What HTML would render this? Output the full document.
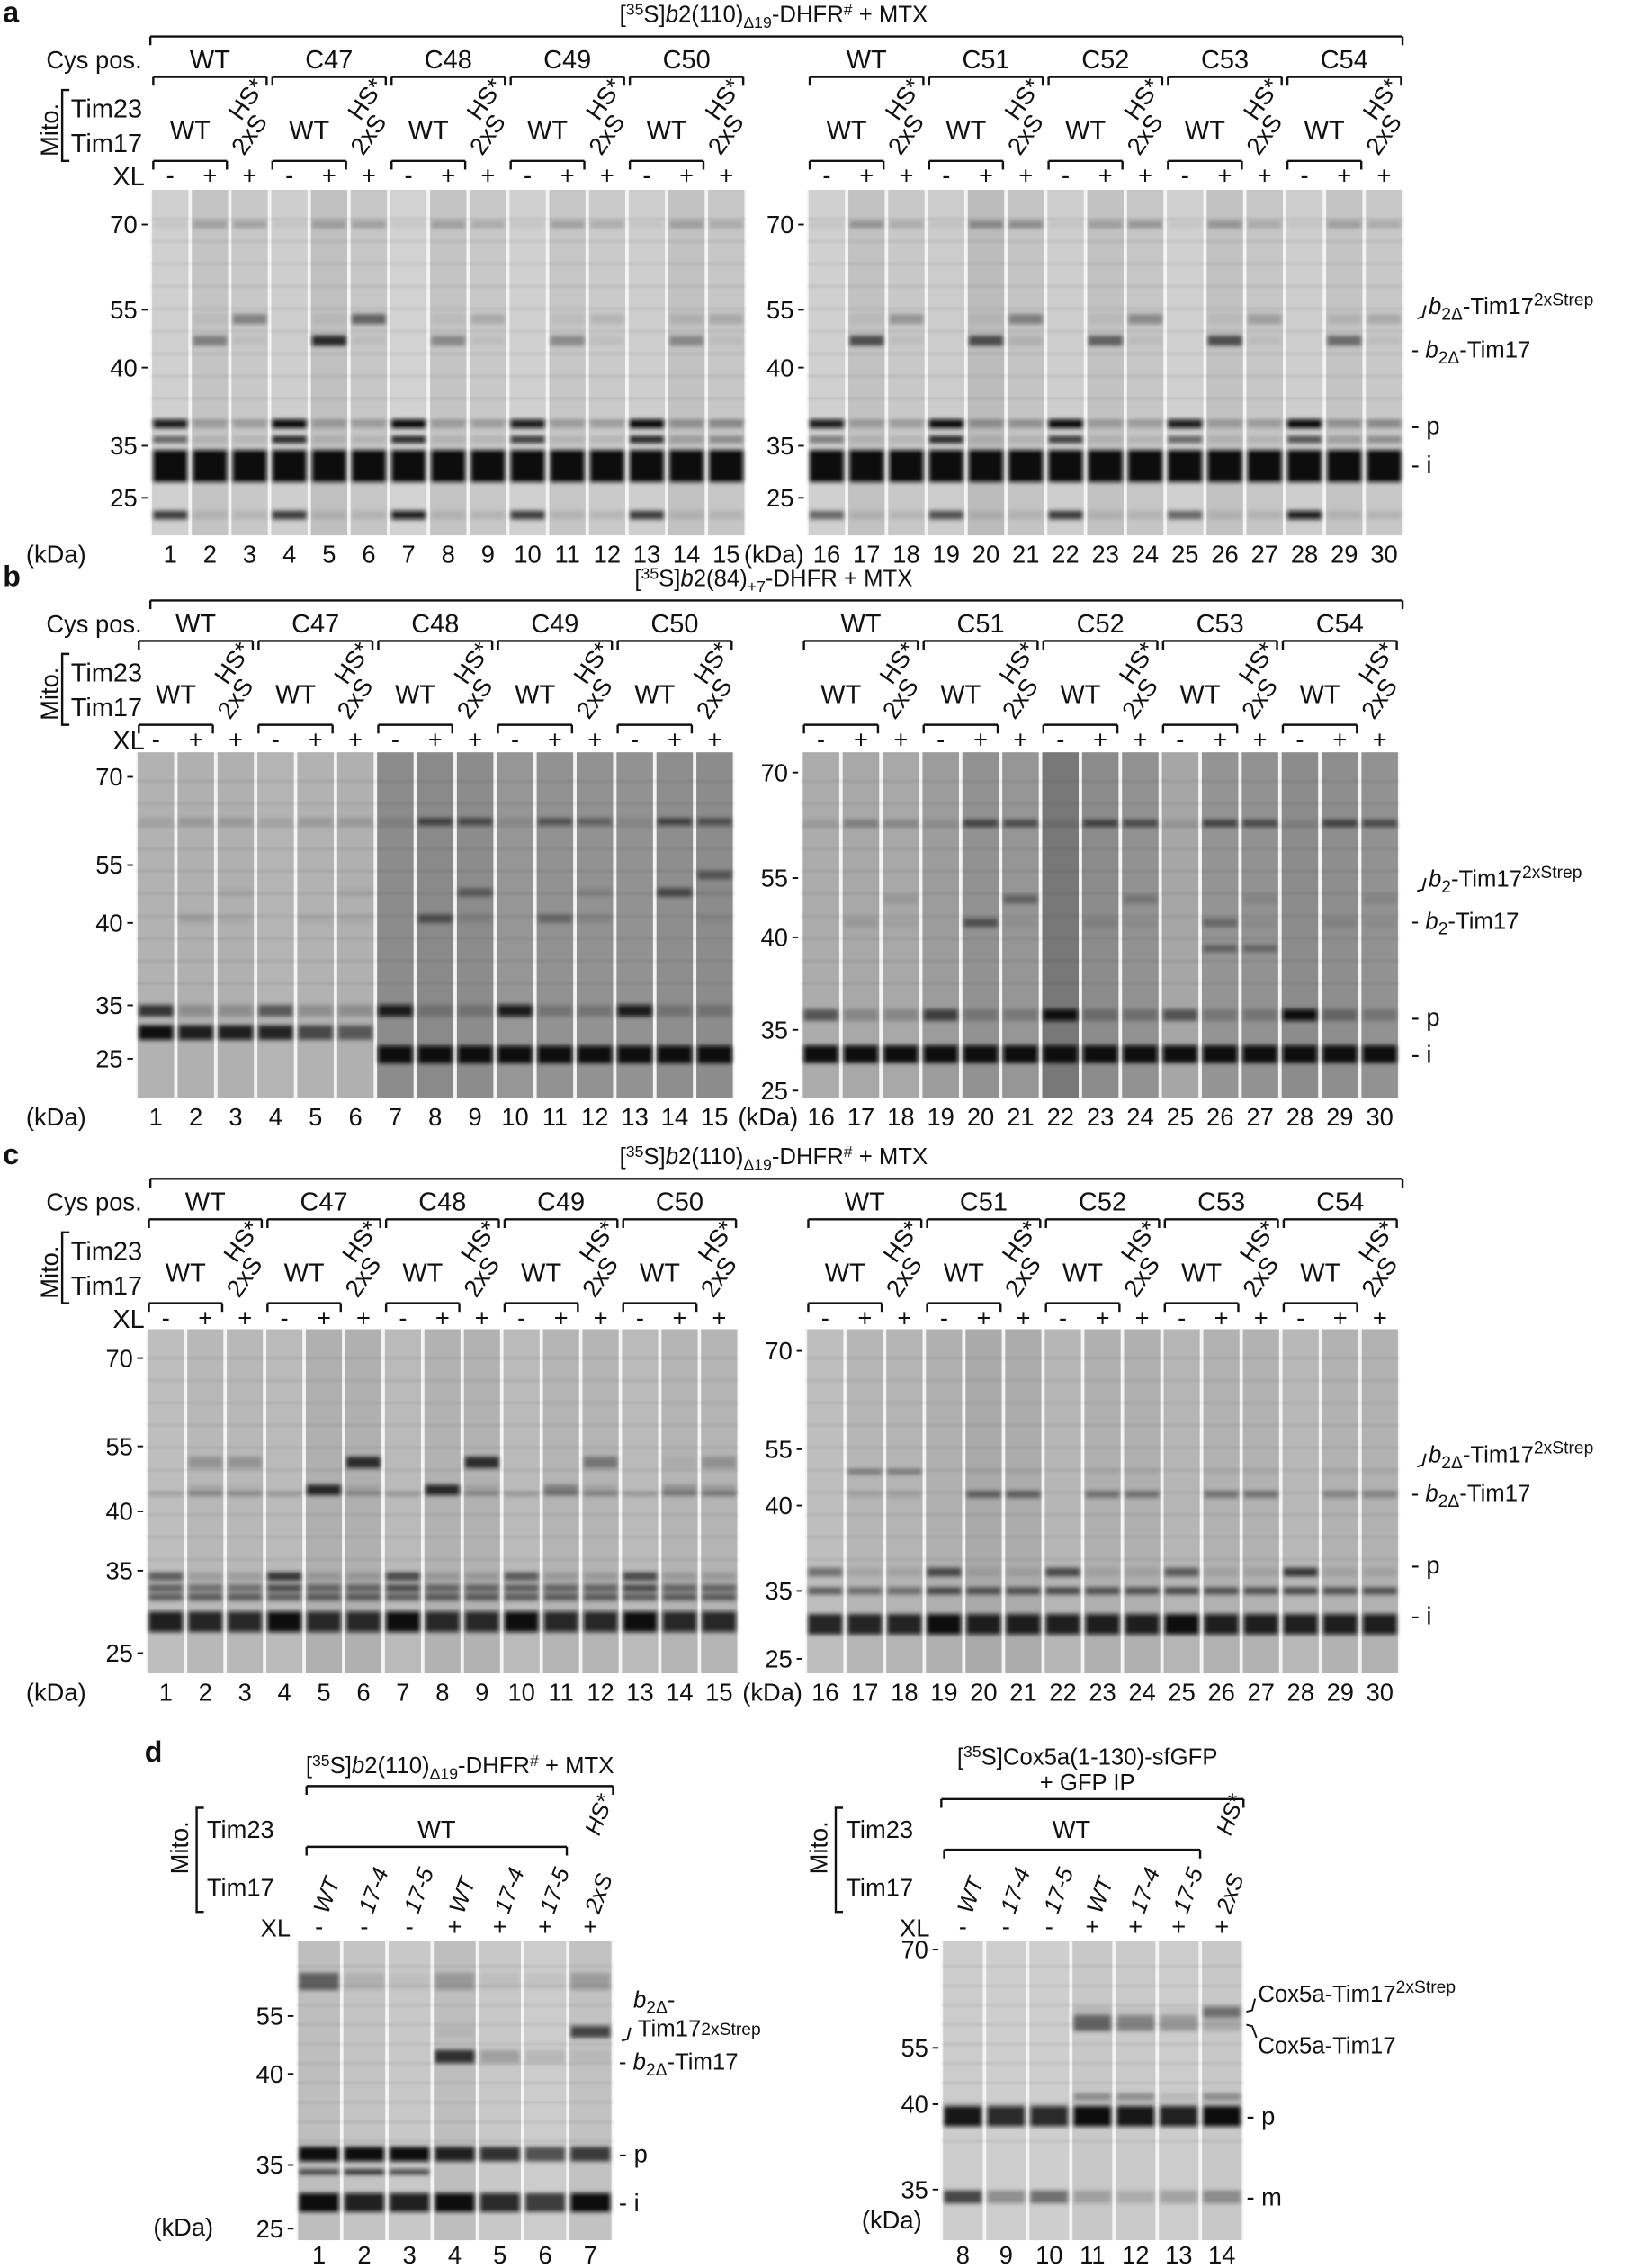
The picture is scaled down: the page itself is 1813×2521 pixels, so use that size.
<!DOCTYPE html>
<html><head><meta charset="utf-8">
<style>
html,body{margin:0;padding:0;background:#fff;}
svg{display:block;}
text{font-family:"Liberation Sans",sans-serif;fill:#111;}
</style></head>
<body>
<svg id="fig" xmlns="http://www.w3.org/2000/svg" width="1813" height="2521" viewBox="0 0 1128 1568">
<defs>
<filter id="blur" x="-20%" y="-60%" width="140%" height="220%"><feGaussianBlur stdDeviation="1.5"/></filter>
<filter id="blur2"><feGaussianBlur stdDeviation="0.8"/></filter>
</defs>
<g id="root"></g>
</svg>
<script>
// ---------- data ----------
const markerKDa = [70, 55, 40, 35, 25];
const laneNumsLeft = [1,2,3,4,5,6,7,8,9,10,11,12,13,14,15];
const laneNumsRight = [16,17,18,19,20,21,22,23,24,25,26,27,28,29,30];
const groupsLeft = ["WT","C47","C48","C49","C50"];
const groupsRight = ["WT","C51","C52","C53","C54"];
const xlSigns = ["-","+","+"];
// panel a
const aL_bg = [208,196,200,206,192,198,210,196,200,208,198,202,206,194,198];
const aL_p  = [0.9,0.2,0.2,1,0.2,0.2,1,0.2,0.2,0.9,0.2,0.2,1,0.25,0.3];
const aL_p2 = [0.5,0.1,0.1,0.8,0.1,0.1,0.8,0.1,0.1,0.7,0.1,0.1,0.8,0.2,0.3];
const aL_i  = [1,1,1,1,1,1,1,1,1,1,1,1,1,1,1];
const aL_xl = [0,0.35,0.05,0,0.85,0.05,0,0.3,0.05,0,0.3,0.05,0,0.3,0.05];
const aL_xs = [0,0.05,0.35,0,0.05,0.5,0,0.05,0.15,0,0.05,0.1,0,0.1,0.15];
const aL_hi = [0.05,0.2,0.2,0.05,0.2,0.2,0.05,0.2,0.15,0.05,0.2,0.15,0.05,0.2,0.15];
const aL_lo = [0.7,0.1,0.1,0.7,0.1,0.1,0.9,0.1,0.1,0.7,0.1,0.1,0.7,0.1,0.1];
const aR_bg = [208,194,200,204,188,196,206,194,198,208,194,198,206,196,200];
const aR_p  = [0.9,0.2,0.2,1,0.25,0.25,1,0.2,0.2,0.9,0.2,0.2,1,0.25,0.3];
const aR_p2 = [0.4,0.1,0.1,0.8,0.1,0.1,0.7,0.1,0.1,0.5,0.1,0.1,0.6,0.2,0.3];
const aR_i  = [1,1,1,1,1,1,1,1,1,1,1,1,1,1,1];
const aR_xl = [0,0.6,0.05,0,0.6,0.1,0,0.5,0.05,0,0.6,0.05,0,0.45,0.05];
const aR_xs = [0,0.05,0.25,0,0.05,0.35,0,0.05,0.3,0,0.05,0.2,0,0.1,0.15];
const aR_hi = [0.05,0.25,0.15,0.05,0.3,0.3,0.05,0.2,0.25,0.05,0.25,0.15,0.05,0.2,0.15];
const aR_lo = [0.5,0.1,0.1,0.6,0.1,0.1,0.7,0.1,0.1,0.5,0.1,0.1,0.9,0.1,0.1];
// panel b
const bL_bg = [178,176,176,180,178,176,140,138,140,150,146,146,146,142,140];
const bL_p  = [0.7,0.2,0.2,0.5,0.2,0.2,0.9,0.2,0.2,0.9,0.2,0.2,0.9,0.2,0.2];
const bL_i1 = [1,0.9,0.9,0.8,0.6,0.5,0,0,0,0,0,0,0,0,0];
const bL_i2 = [0,0,0,0,0,0,1,1,1,1,1,1,1,1,1];
const bL_hi = [0.1,0.15,0.15,0.1,0.15,0.15,0.1,0.55,0.5,0.1,0.45,0.35,0.1,0.55,0.45];
const bL_xl = [0,0.1,0.05,0,0.05,0.05,0,0.45,0.1,0,0.3,0.1,0,0,0.05];
const bL_xs = [0,0,0.05,0,0,0.05,0,0,0.35,0,0,0.1,0,0.5,0.05];
const bL_xt = [0,0,0,0,0,0,0,0,0,0,0,0,0,0,0.4];
const bR_bg = [172,168,168,156,146,150,120,140,146,166,148,146,140,142,146];
const bR_p  = [0.5,0.2,0.2,0.6,0.2,0.2,1,0.25,0.25,0.5,0.2,0.2,1,0.3,0.2];
const bR_i  = [1,1,1,1,1,1,1,1,1,1,1,1,1,1,1];
const bR_hi = [0.1,0.25,0.2,0.1,0.55,0.5,0.1,0.55,0.5,0.1,0.55,0.5,0.1,0.55,0.5];
const bR_xl = [0,0.1,0.05,0,0.45,0.05,0,0.1,0.05,0,0.3,0.05,0,0.1,0.05];
const bR_xs = [0,0,0.1,0,0,0.35,0,0,0.2,0,0,0.1,0,0,0.1];
const bR_x4 = [0,0,0,0,0,0,0,0,0,0,0.35,0.3,0,0,0];
// panel c
const cL_bg = [190,184,184,186,176,176,186,178,178,186,180,180,186,180,180];
const cL_p  = [0.5,0.15,0.15,0.7,0.15,0.15,0.6,0.15,0.15,0.5,0.15,0.15,0.6,0.15,0.15];
const cL_p2 = [0.5,0.4,0.4,0.6,0.45,0.45,0.6,0.45,0.45,0.5,0.45,0.45,0.6,0.45,0.45];
const cL_i  = [0.9,0.8,0.85,1,0.85,0.85,1,0.85,0.85,1,0.85,0.85,1,0.85,0.85];
const cL_m  = [0.5,0.5,0.5,0.5,0.5,0.5,0.5,0.5,0.5,0.5,0.5,0.5,0.5,0.5,0.5];
const cL_xl = [0,0.1,0.05,0,0.85,0.1,0,0.85,0.1,0,0.3,0.1,0,0.2,0.15];
const cL_xs = [0,0.2,0.2,0,0,0.75,0,0,0.75,0,0,0.35,0,0.05,0.2];
const cL_ln = [0.15,0.25,0.25,0.2,0.2,0.2,0.2,0.2,0.2,0.2,0.2,0.25,0.2,0.25,0.3];
const cR_bg = [190,182,180,176,170,172,182,176,176,182,178,178,184,178,178];
const cR_p  = [0.4,0.1,0.1,0.6,0.1,0.1,0.6,0.1,0.1,0.5,0.1,0.1,0.7,0.1,0.1];
const cR_p2 = [0.5,0.4,0.4,0.6,0.55,0.55,0.6,0.55,0.55,0.6,0.55,0.55,0.6,0.55,0.55];
const cR_i  = [0.8,0.8,0.8,1,0.9,0.9,0.9,0.9,0.9,1,0.9,0.9,0.9,0.9,0.9];
const cR_xl = [0,0.1,0.1,0,0.45,0.45,0,0.35,0.35,0,0.35,0.35,0,0.25,0.25];
const cR_xs = [0,0.3,0.3,0,0.05,0.05,0,0.05,0.05,0,0.05,0.05,0,0.05,0.05];
// panel d
const dL_lanes = ["WT","17-4","17-5","WT","17-4","17-5","2xS"];
const dL_xl = ["-","-","-","+","+","+","+"];
const dL_nums = [1,2,3,4,5,6,7];
const dL_bg = [190,196,200,190,200,204,194];
const dL_p  = [1,1,1,0.9,0.75,0.6,0.7];
const dL_p2 = [0.6,0.7,0.6,0,0,0,0];
const dL_i  = [1,0.9,0.9,1,0.85,0.7,1];
const dL_x  = [0,0,0,0.75,0.2,0.1,0.05];
const dL_xs = [0,0,0,0.05,0,0,0.65];
const dL_hi = [0.5,0.1,0.05,0.2,0.05,0.05,0.2];
const dR_nums = [8,9,10,11,12,13,14];
const dR_bg = [204,206,206,200,202,204,200];
const dR_p  = [0.95,0.85,0.85,1,0.95,0.9,1];
const dR_m  = [0.65,0.3,0.45,0.2,0.15,0.2,0.3];
const dR_e  = [0,0,0,0.3,0.3,0.1,0.3];
const dR_x  = [0,0,0,0.5,0.35,0.25,0.15];
const dR_xs = [0,0,0,0.1,0.05,0.05,0.45];

// ---------- helpers ----------
const NS="http://www.w3.org/2000/svg";
const root=document.getElementById('root');
function el(tag,attrs,parent){const e=document.createElementNS(NS,tag);for(const k in attrs)e.setAttribute(k,attrs[k]);(parent||root).appendChild(e);return e;}
function txt(x,y,s,size,parent,extra){const t=el('text',Object.assign({x:x,y:y,'font-size':size},extra||{}),parent);t.textContent=s;return t;}
function ln(x1,y1,x2,y2,parent,w){return el('line',{x1,y1,x2,y2,stroke:'#111','stroke-width':w||1.5},parent);}
function yScale(kda,ys){
  for(let i=0;i<markerKDa.length-1;i++){
    const a=markerKDa[i],b=markerKDa[i+1];
    if(kda<=a&&kda>=b){return ys[i]+(ys[i+1]-ys[i])*(a-kda)/(a-b);}
  }
  return kda>markerKDa[0]?ys[0]-(kda-markerKDa[0])*3:ys[ys.length-1]+(markerKDa[markerKDa.length-1]-kda)*4;
}
function gel(name,x0,x1,y0,y1,n,lanebg,bands){
  const g=el('g',{});
  
  
  const w=(x1-x0)/n;
  el('rect',{x:x0,y:y0,width:x1-x0,height:y1-y0,fill:'#f4f4f4'},g);
  lanebg.forEach((c,i)=>{
    const r=el('rect',{x:x0+i*w+1.2,y:y0,width:w-2.4,height:y1-y0,fill:`rgb(${c},${c},${c})`},g);
    
    
  });
  const bg2=el('g',{filter:'url(#blur2)'},g);
  for(let k=0;k<10;k++){const yy=y0+(y1-y0)*(0.08+k*0.065);el('rect',{x:x0,y:yy,width:x1-x0,height:2,fill:'#000',opacity:0.06},bg2);}
  const bg3=el('g',{filter:'url(#blur)'},g);
  bands.forEach(b=>{
    b.vals.forEach((v,i)=>{
      if(v<=0)return;
      const r=el('rect',{x:x0+i*w+2,y:b.y-b.h/2,width:w-4,height:b.h,fill:'#080808',opacity:v},bg3);
      
      
    });
  });
  return w;
}
function markers(xr,ys,labels,parent){
  labels.forEach((k,i)=>{
    const t=txt(xr-9,ys[i]+6,String(k),17,parent,{'text-anchor':'end'});
    
    
    ln(xr-6,ys[i],xr-2,ys[i],parent,1.2);
  });
}
function header(x0,x1,groups,sh,g){
  const w=(x1-x0)/15;
  groups.forEach((gn,gi)=>{
    const gx0=x0+gi*3*w, gx1=gx0+3*w, cx=(gx0+gx1)/2;
    const t=txt(cx,47+sh,gn,18,g,{'text-anchor':'middle'});
    
    
    ln(gx0+2,53+sh,gx1-2,53+sh,g);ln(gx0+2,53+sh,gx0+2,59+sh,g);ln(gx1-2,53+sh,gx1-2,59+sh,g);
    txt(gx0+w,96+sh,'WT',18,g,{'text-anchor':'middle'});
    const c3=gx0+2.5*w;
    txt(0,0,'HS*',17,g,{transform:`translate(${c3-6},${84+sh}) rotate(-55)`});
    txt(0,0,'2xS',17,g,{transform:`translate(${c3-4},${108+sh}) rotate(-55)`});
    ln(gx0+2,111+sh,gx0+2*w-2,111+sh,g);ln(gx0+2,111+sh,gx0+2,117+sh,g);ln(gx0+2*w-2,111+sh,gx0+2*w-2,117+sh,g);
    xlSigns.forEach((s,si)=>{txt(gx0+w*(si+0.5),127+sh,s,17,g,{'text-anchor':'middle'});});
  });
}
function leftLabels(sh,g){
  txt(32,47+sh,'Cys pos.',17,g);
  txt(0,0,'Mito.',17,g,{transform:`translate(40,${108+sh}) rotate(-90)`});
  el('path',{d:`M48 ${62+sh} H43 V${111+sh} H48`,fill:'none',stroke:'#111','stroke-width':1.5},g);
  txt(49,81+sh,'Tim23',18,g);txt(49,105+sh,'Tim17',18,g);
  txt(100,128+sh,'XL',18,g,{'text-anchor':'end'});
}
function panel(letter,sh,title,gels,labYs,sub){
  const g=el('g',{});
  
  
  txt(2,15+sh,letter,20,g,{'font-weight':'bold'});
  const tt=txt(535,15+sh,'',16,g,{'text-anchor':'middle'});
  tt.innerHTML=title;
  
  
  ln(104,25+sh,970,25+sh,g);ln(104,25+sh,104,31+sh,g);ln(970,25+sh,970,31+sh,g);
  leftLabels(sh,g);
  header(gels[0].x0,gels[0].x1,groupsLeft,sh,g);
  header(gels[1].x0,gels[1].x1,groupsRight,sh,g);
  gels.forEach((G,gi)=>{
    const bands=G.bands.map(b=>({y:yScale(b.k,G.ys),h:b.h,vals:b.vals}));
    const w=gel('gel-'+letter+(gi?'-right':'-left'),G.x0,G.x1,G.y0,G.y1,15,G.bg,bands);
    markers(G.x0,G.ys,markerKDa,g);
    const nums=gi?laneNumsRight:laneNumsLeft;
    nums.forEach((nm,i)=>{const t=txt(G.x0+w*(i+0.5),G.y1+19,String(nm),17,g,{'text-anchor':'middle'});});
  });
  txt(18,gels[0].y1+19,'(kDa)',17,g);
  txt(gels[1].x0-2,gels[1].y1+19,'(kDa)',17,g,{'text-anchor':'end'});
  const l1=txt(988,labYs[0]+5,'',16,g);
  l1.innerHTML=`<tspan font-style="italic">b</tspan><tspan font-size="12" dy="4">2${sub}</tspan><tspan dy="-4">-Tim17</tspan><tspan font-size="12" dy="-6">2xStrep</tspan>`;
  
  el('path',{d:`M980 ${labYs[0]+8} l4 -1 l2 -8`,fill:'none',stroke:'#111','stroke-width':1.2},g);
  const l2=txt(976,labYs[1]+6,'',16,g);
  l2.innerHTML=`- <tspan font-style="italic">b</tspan><tspan font-size="12" dy="4">2${sub}</tspan><tspan dy="-4">-Tim17</tspan>`;
  
  txt(976,labYs[2]+5,'- p',17,g);
  txt(976,labYs[3]+5,'- i',17,g);
}
const titleB110='[<tspan font-size="11" dy="-5">35</tspan><tspan dy="5">S]</tspan><tspan font-style="italic">b</tspan><tspan>2</tspan><tspan>(110)</tspan><tspan font-size="11" dy="4">Δ19</tspan><tspan dy="-4">-DHFR</tspan><tspan font-size="11" dy="-5">#</tspan><tspan dy="5"> + MTX</tspan>';
// panel a
panel('a',0,titleB110,[
 {x0:104,x1:516,y0:131,y1:370,bg:aL_bg,ys:[155,214,254,308,344],bands:[
  {k:36.4,h:6,vals:aL_p},{k:35.4,h:5,vals:aL_p2},{k:31.1,h:22,vals:aL_i},{k:47,h:7,vals:aL_xl},{k:52.6,h:7,vals:aL_xs},{k:70,h:5,vals:aL_hi},{k:22,h:6,vals:aL_lo}]},
 {x0:558,x1:971,y0:131,y1:370,bg:aR_bg,ys:[155,214,254,308,344],bands:[
  {k:36.4,h:6,vals:aR_p},{k:35.4,h:5,vals:aR_p2},{k:31.1,h:22,vals:aR_i},{k:47,h:7,vals:aR_xl},{k:52.6,h:7,vals:aR_xs},{k:70,h:5,vals:aR_hi},{k:22,h:6,vals:aR_lo}]}
],[212,241,295,322],'Δ');
// panel b
panel('b',390,'[<tspan font-size="11" dy="-5">35</tspan><tspan dy="5">S]</tspan><tspan font-style="italic">b</tspan><tspan>2</tspan><tspan>(84)</tspan><tspan font-size="11" dy="4">+7</tspan><tspan dy="-4">-DHFR + MTX</tspan>',[
 {x0:94,x1:508,y0:520,y1:759,bg:bL_bg,ys:[537,598,638,695,732],bands:[
  {k:34,h:8,vals:bL_p},{k:29.9,h:10,vals:bL_i1},{k:25.8,h:12,vals:bL_i2},{k:62.4,h:5,vals:bL_hi},{k:41.1,h:6,vals:bL_xl},{k:47.9,h:6,vals:bL_xs},{k:52.4,h:6,vals:bL_xt}]},
 {x0:554,x1:968,y0:520,y1:759,bg:bR_bg,ys:[534,607,648,712,754],bands:[
  {k:35.8,h:8,vals:bR_p},{k:31,h:12,vals:bR_i},{k:62.8,h:5,vals:bR_hi},{k:43.7,h:6,vals:bR_xl},{k:49.6,h:6,vals:bR_xs},{k:39.4,h:5,vals:bR_x4}]}
],[608,636,704,730],'');
// panel c
panel('c',790,titleB110,[
 {x0:101,x1:511,y0:919,y1:1157,bg:cL_bg,ys:[939,1000,1045,1086,1143],bands:[
  {k:34.3,h:6,vals:cL_p},{k:32.9,h:5,vals:cL_p2},{k:31.8,h:5,vals:cL_m},{k:28.8,h:14,vals:cL_i},{k:45,h:7,vals:cL_xl},{k:51.3,h:8,vals:cL_xs},{k:44,h:3,vals:cL_ln}]},
 {x0:557,x1:968,y0:919,y1:1157,bg:cR_bg,ys:[934,1002,1041,1100,1147],bands:[
  {k:36.1,h:6,vals:cR_p},{k:35,h:5,vals:cR_p2},{k:30.1,h:14,vals:cR_i},{k:43,h:5,vals:cR_xl},{k:49,h:4,vals:cR_xs}]}
],[1006,1032,1083,1118],'Δ');

// panel d
(function(){
  const g=el('g',{});
  
  
  txt(100,1218,'d',20,g,{'font-weight':'bold'});
  function mito(x,g){
    txt(0,0,'Mito.',17,g,{transform:`translate(${x+5},1296) rotate(-90)`});
    el('path',{d:`M${x+16} 1250 H${x+11} V1322 H${x+16}`,fill:'none',stroke:'#111','stroke-width':1.5},g);
    txt(x+18,1271,'Tim23',17,g);txt(x+18,1311,'Tim17',17,g);
  }
  function cols(x0,w,labels,signs,g){
    labels.forEach((s,i)=>{
      const lt=txt(0,0,s,16,g,{transform:`translate(${x0+(i+0.5)*w+6},1324) rotate(-70)`,'font-style':'italic'});
      
      txt(x0+(i+0.5)*w,1338,signs[i],17,g,{'text-anchor':'middle'});
    });
  }
  // left
  const t1=txt(318,1226,'',16,g,{'text-anchor':'middle'});
  t1.innerHTML=titleB110;
  
  ln(212,1235,424,1235,g);ln(212,1235,212,1241,g);ln(424,1235,424,1241,g);
  mito(125,g);
  const Lx0=205,Lx1=424,Lw=(Lx1-Lx0)/7;
  txt(302,1271,'WT',17,g,{'text-anchor':'middle'});
  ln(212,1277,392,1277,g);ln(212,1277,212,1283,g);ln(392,1277,392,1283,g);
  txt(0,0,'HS*',16,g,{transform:`translate(${Lx0+6.5*Lw+6},1270) rotate(-70)`,'font-style':'italic'});
  cols(Lx0,Lw,dL_lanes,dL_xl,g);
  txt(201,1339,'XL',17,g,{'text-anchor':'end'});
  const ysL=[1330,1394,1434,1497,1541];
  const bandsL=[{k:35.6,h:10,vals:dL_p},{k:33.9,h:4,vals:dL_p2},{k:29.1,h:13,vals:dL_i},{k:44.5,h:9,vals:dL_x},{k:50.9,h:8,vals:dL_xs},{k:60.6,h:12,vals:dL_hi}]
    .map(b=>({y:yScale(b.k,ysL),h:b.h,vals:b.vals}));
  gel('gel-d-left',Lx0,Lx1,1342,1549,7,dL_bg,bandsL);
  markers(Lx0,ysL.slice(1),markerKDa.slice(1),g);
  dL_nums.forEach((n,i)=>{const t=txt(Lx0+(i+0.5)*Lw,1565,String(n),17,g,{'text-anchor':'middle'});});
  txt(106,1546,'(kDa)',17,g);
  const a1=txt(438,1388,'',16,g);a1.innerHTML='<tspan font-style="italic">b</tspan><tspan font-size="12" dy="4">2Δ</tspan><tspan dy="-4">-</tspan>';
  const a2=txt(441,1408,'',16,g);a2.innerHTML='Tim17<tspan font-size="12" dy="-1">2xStrep</tspan>';
  el('path',{d:'M430 1411 l4 -1 l2 -8',fill:'none',stroke:'#111','stroke-width':1.2},g);
  const a3=txt(428,1431,'',16,g);a3.innerHTML='- <tspan font-style="italic">b</tspan><tspan font-size="12" dy="4">2Δ</tspan><tspan dy="-4">-Tim17</tspan>';
  txt(428,1495,'- p',17,g);txt(428,1529,'- i',17,g);
  // right
  const t2=txt(752,1220,'',16,g,{'text-anchor':'middle'});
  t2.innerHTML='[<tspan font-size="11" dy="-5">35</tspan><tspan dy="5">S]Cox5a(1-130)-sfGFP</tspan>';
  txt(752,1238,'+ GFP IP',16,g,{'text-anchor':'middle'});
  ln(651,1244,860,1244,g);ln(651,1244,651,1250,g);ln(860,1244,860,1250,g);
  mito(567,g);
  const Rx0=651,Rx1=860,Rw=(Rx1-Rx0)/7;
  txt(741,1271,'WT',17,g,{'text-anchor':'middle'});
  ln(653,1279,830,1279,g);ln(653,1279,653,1285,g);ln(830,1279,830,1285,g);
  txt(0,0,'HS*',16,g,{transform:`translate(${Rx0+6.5*Rw+6},1270) rotate(-70)`,'font-style':'italic'});
  cols(Rx0,Rw,dL_lanes,dL_xl,g);
  txt(643,1339,'XL',17,g,{'text-anchor':'end'});
  const ysR=[1348,1416,1455,1514,1560];
  const bandsR=[{k:39.3,h:14,vals:dR_p},{k:33.9,h:9,vals:dR_m},{k:42,h:5,vals:dR_e},{k:58.75,h:11,vals:dR_x},{k:60.5,h:7,vals:dR_xs}]
    .map(b=>({y:yScale(b.k,ysR),h:b.h,vals:b.vals}));
  gel('gel-d-right',Rx0,Rx1,1342,1549,7,dR_bg,bandsR);
  markers(Rx0,ysR.slice(0,4),markerKDa.slice(0,4),g);
  dR_nums.forEach((n,i)=>{const t=txt(Rx0+(i+0.5)*Rw,1565,String(n),17,g,{'text-anchor':'middle'});});
  txt(596,1541,'(kDa)',17,g);
  const c1=txt(870,1384,'',16,g);c1.innerHTML='Cox5a-Tim17<tspan font-size="12" dy="-6">2xStrep</tspan>';
  el('path',{d:'M862 1391 l4 -1 l2 -8',fill:'none',stroke:'#111','stroke-width':1.2},g);
  txt(870,1420,'Cox5a-Tim17',16,g);
  el('path',{d:'M862 1400 l4 1 l3 8',fill:'none',stroke:'#111','stroke-width':1.2},g);
  txt(862,1469,'- p',17,g);txt(862,1525,'- m',17,g);
})();
</script>
</body></html>
